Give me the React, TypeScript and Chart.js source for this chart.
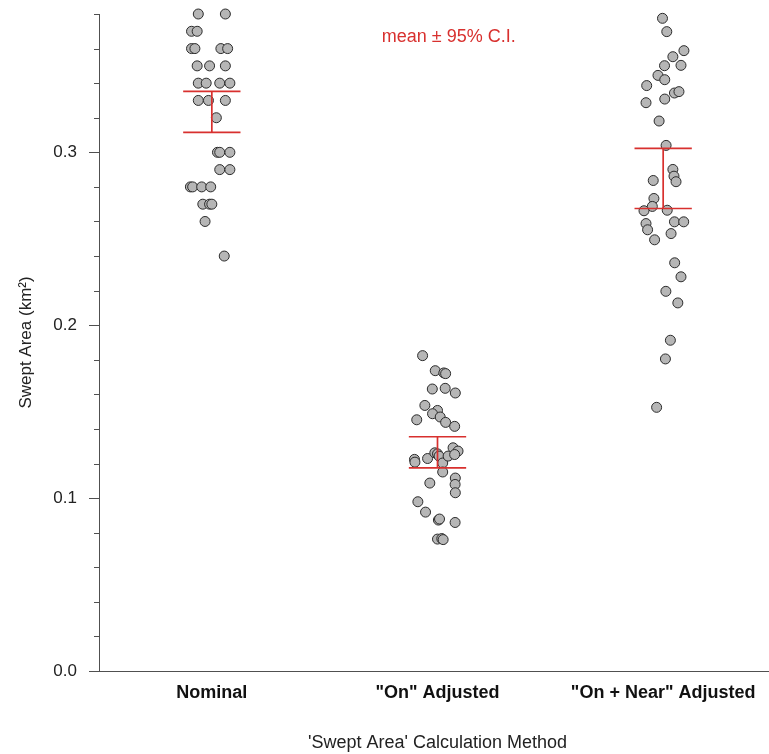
import React, { useEffect, useRef } from "react";
import { Chart, registerables } from "chart.js";

Chart.register(...registerables);

// Calculation methods on the x axis (category positions 0, 1, 2)
const categories = ["Nominal", "\"On\" Adjusted", "\"On + Near\" Adjusted"];

// Swept area per tow (km²) and horizontal jitter (category units) for each method
const nominalValues = [
  0.38, 0.38, 0.37, 0.37, 0.36, 0.36, 0.36, 0.36, 0.35, 0.35, 0.35,
  0.34, 0.34, 0.34, 0.34, 0.33, 0.33, 0.33, 0.32, 0.30, 0.30, 0.30,
  0.29, 0.29, 0.28, 0.28, 0.28, 0.28, 0.27, 0.27, 0.27, 0.26, 0.24,
];
const nominalJitter = [
  -0.06, 0.06, -0.09, -0.065, -0.09, -0.075, 0.04, 0.07, -0.065, -0.01, 0.06,
  -0.06, -0.025, 0.035, 0.08, -0.06, -0.015, 0.06, 0.02, 0.025, 0.035, 0.08,
  0.035, 0.08, -0.095, -0.085, -0.045, -0.005, -0.04, -0.01, 0.0, -0.03, 0.055,
];

const onValues = [
  0.1824, 0.1737, 0.1724, 0.172, 0.1631, 0.1635, 0.1608, 0.1536, 0.1507, 0.1488,
  0.1469, 0.1453, 0.1438, 0.1415, 0.1224, 0.1208, 0.1229, 0.1262, 0.1256, 0.1243,
  0.1203, 0.1243, 0.1291, 0.1272, 0.1252, 0.1151, 0.1087, 0.1116, 0.1079, 0.1031,
  0.0979, 0.0919, 0.0873, 0.0879, 0.0859, 0.0763, 0.0766, 0.076,
];
const onJitter = [
  -0.066, -0.01, 0.028, 0.036, -0.023, 0.034, 0.079, -0.056, 0.0, -0.022,
  0.012, -0.092, 0.036, 0.076, -0.102, -0.1, -0.044, -0.012, 0.0, 0.007,
  0.023, 0.047, 0.069, 0.091, 0.076, 0.023, -0.034, 0.079, 0.078, 0.079,
  -0.087, -0.053, 0.004, 0.009, 0.078, 0.0, 0.019, 0.025,
];

const onNearValues = [
  0.3775, 0.3698, 0.3588, 0.3553, 0.3501, 0.3503, 0.3445, 0.342, 0.3386, 0.3343,
  0.3351, 0.3287, 0.3308, 0.3181, 0.304, 0.2901, 0.2862, 0.283, 0.2837, 0.2733,
  0.2687, 0.2662, 0.2665, 0.2598, 0.2598, 0.2588, 0.2552, 0.253, 0.2494, 0.2361,
  0.228, 0.2196, 0.2129, 0.1913, 0.1805, 0.1525,
];
const onNearJitter = [
  -0.003, 0.016, 0.092, 0.043, 0.006, 0.079, -0.023, 0.007, -0.073, 0.05,
  0.07, -0.076, 0.007, -0.018, 0.013, 0.043, 0.048, 0.057, -0.044, -0.041,
  -0.048, -0.085, 0.018, 0.05, 0.091, -0.076, -0.069, 0.035, -0.038, 0.051,
  0.079, 0.012, 0.065, 0.032, 0.01, -0.029,
];

// 95% confidence interval of the mean for each method
const ciLower = [0.3115, 0.1175, 0.2675];
const ciUpper = [0.3353, 0.1355, 0.3023];

// Axis ticks
const yMajorTicks = [0, 0.1, 0.2, 0.3];
const yMinorTicks = [
  0.02, 0.04, 0.06, 0.08, 0.12, 0.14, 0.16, 0.18, 0.22, 0.24, 0.26, 0.28,
  0.32, 0.34, 0.36, 0.38,
];

const FONT = "'Liberation Sans', Arial, Helvetica, sans-serif";
const RED = "#d8302e";
const AXIS = "#505050";
const CAP_HALF = 0.127;

function toPoints(values: number[], jitter: number[], cat: number) {
  return values.map((v, i) => ({ x: cat + jitter[i], y: v }));
}

function errorBarPoints() {
  const pts: { x: number; y: number | null }[] = [];
  categories.forEach((_, c) => {
    const lo = ciLower[c];
    const hi = ciUpper[c];
    pts.push({ x: c - CAP_HALF, y: hi }, { x: c + CAP_HALF, y: hi }, { x: c, y: null });
    pts.push({ x: c, y: hi }, { x: c, y: lo }, { x: c, y: null });
    pts.push({ x: c - CAP_HALF, y: lo }, { x: c + CAP_HALF, y: lo }, { x: c, y: null });
  });
  return pts;
}

// Short unlabeled ticks on the y axis between the labelled ones
const minorTickPlugin = {
  id: "minorTicks",
  afterDraw(chart: any) {
    const y = chart.scales.y;
    const ctx = chart.ctx;
    const left = chart.chartArea.left;
    ctx.save();
    ctx.strokeStyle = AXIS;
    ctx.lineWidth = 1;
    yMinorTicks.forEach((v) => {
      const py = Math.round(y.getPixelForValue(v)) + 0.5;
      ctx.beginPath();
      ctx.moveTo(left - 5, py);
      ctx.lineTo(left, py);
      ctx.stroke();
    });
    ctx.restore();
  },
};

// Key text for the red interval bars
const ciNotePlugin = {
  id: "ciNote",
  afterDatasetsDraw(chart: any) {
    const { x, y } = chart.scales;
    const ctx = chart.ctx;
    ctx.save();
    ctx.fillStyle = RED;
    ctx.font = `18px ${FONT}`;
    ctx.textAlign = "center";
    ctx.textBaseline = "middle";
    ctx.fillText("mean ± 95% C.I.", x.getPixelForValue(1.05), y.getPixelForValue(0.3665));
    ctx.restore();
  },
};

export default function App() {
  const canvasRef = useRef<HTMLCanvasElement | null>(null);

  useEffect(() => {
    if (!canvasRef.current) return;
    const pointStyle = {
      showLine: false,
      pointRadius: 5,
      pointBorderWidth: 1,
      pointBackgroundColor: "#b6b6b6",
      pointBorderColor: "#2b2b2b",
      clip: false as const,
    };
    const chart = new Chart(canvasRef.current, {
      type: "scatter",
      data: {
        datasets: [
          {
            label: "mean ± 95% C.I.",
            data: errorBarPoints() as any,
            showLine: true,
            spanGaps: false,
            borderColor: RED,
            borderWidth: 1.7,
            pointRadius: 0,
            clip: false as const,
          },
          { label: categories[0], data: toPoints(nominalValues, nominalJitter, 0), ...pointStyle },
          { label: categories[1], data: toPoints(onValues, onJitter, 1), ...pointStyle },
          { label: categories[2], data: toPoints(onNearValues, onNearJitter, 2), ...pointStyle },
        ],
      },
      options: {
        animation: false,
        responsive: false,
        maintainAspectRatio: false,
        layout: { padding: { top: 14, left: 0, right: 0, bottom: 0 } },
        plugins: {
          legend: { display: false },
          tooltip: { enabled: false },
        },
        scales: {
          x: {
            type: "linear",
            min: -0.5,
            max: 2.5,
            afterBuildTicks: (scale: any) => {
              scale.ticks = categories.map((_, i) => ({ value: i }));
            },
            afterFit: (scale: any) => {
              scale.height = 83;
              scale.paddingLeft = 0;
              scale.paddingRight = 0;
            },
            ticks: {
              autoSkip: false,
              maxRotation: 0,
              padding: 11,
              color: "#111",
              font: { family: FONT, size: 18, weight: "bold" },
              callback: (v: any) => categories[Math.round(Number(v))] ?? "",
            },
            grid: { display: true, drawOnChartArea: false, drawTicks: false },
            border: { display: true, color: AXIS, width: 1 },
            title: {
              display: true,
              text: "'Swept Area' Calculation Method",
              color: "#222",
              font: { family: FONT, size: 18 },
              padding: { top: 0, bottom: 0 },
            },
          },
          y: {
            type: "linear",
            min: 0,
            max: 0.38,
            afterBuildTicks: (scale: any) => {
              scale.ticks = yMajorTicks.map((v) => ({ value: v }));
            },
            afterFit: (scale: any) => {
              scale.width = 99;
              scale.paddingTop = 0;
              scale.paddingBottom = 0;
            },
            ticks: {
              padding: 12,
              color: "#222",
              font: { family: FONT, size: 17 },
              callback: (v: any) => Number(v).toFixed(1),
            },
            grid: { display: true, drawOnChartArea: false, tickLength: 10, tickColor: AXIS },
            border: { display: true, color: AXIS, width: 1 },
            title: {
              display: true,
              text: "Swept Area (km²)",
              color: "#222",
              font: { family: FONT, size: 17 },
              padding: { top: 16, bottom: 0 },
            },
          },
        },
      },
      plugins: [minorTickPlugin, ciNotePlugin],
    });
    return () => chart.destroy();
  }, []);

  return (
    <div
      style={{
        position: "absolute",
        left: 0,
        top: 0,
        width: 769,
        height: 754,
        overflow: "hidden",
        background: "#fff",
      }}
    >
      <canvas ref={canvasRef} width={782} height={754} style={{ width: 782, height: 754, display: "block" }} />
    </div>
  );
}
